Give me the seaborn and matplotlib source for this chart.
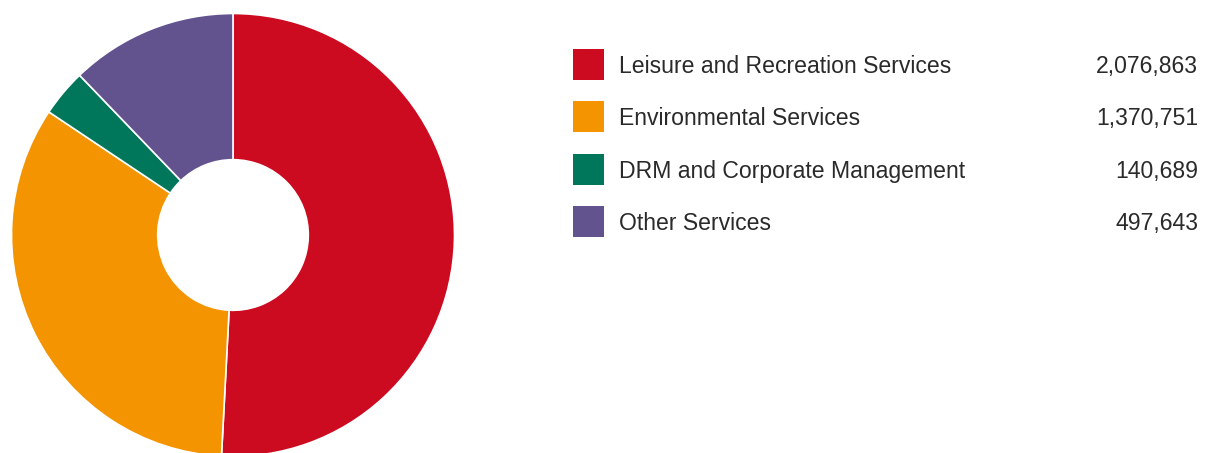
import matplotlib
matplotlib.use('Agg')
import matplotlib.pyplot as plt
from matplotlib.patches import Rectangle
import seaborn as sns

categories = ['Leisure and Recreation Services', 'Environmental Services',
              'DRM and Corporate Management', 'Other Services']
values = [2076863, 1370751, 140689, 497643]
colors = ['#CC0A20', '#F39400', '#00775A', '#62538E']

sns.set_theme(style='white')
plt.rcParams['font.family'] = ['Liberation Sans', 'DejaVu Sans']

W, H = 1205, 453
fig = plt.figure(figsize=(W / 100, H / 100), dpi=100)

# donut: centre (233, 235) px, outer radius ~221.5 px
cx, cy, r = 233, 235, 221.5
ax = fig.add_axes([(cx - r) / W, (H - cy - r) / H, 2 * r / W, 2 * r / H])
ax.pie(values, colors=colors, startangle=90, counterclock=False, radius=1,
       wedgeprops=dict(width=0.66, edgecolor='white', linewidth=1.2))
ax.set_xlim(-1, 1)
ax.set_ylim(-1, 1)
ax.set_aspect('equal')
ax.axis('off')

# legend with values
row_y = [64.5, 116.5, 169.5, 221.5]
for cat, val, col, y in zip(categories, values, colors, row_y):
    fig.patches.append(Rectangle((573 / W, (H - y - 15.5) / H), 31 / W, 31 / H,
                                 transform=fig.transFigure, facecolor=col,
                                 edgecolor='none'))
    base = (H - y - 8.5) / H
    fig.text(619 / W, base, cat, ha='left', va='baseline',
             fontsize=16.6, color='#2a2a2a')
    fig.text(1198 / W, base, f'{val:,}', ha='right', va='baseline',
             fontsize=16.6, color='#2a2a2a')

fig.savefig('out.png', dpi=100, facecolor='white')
